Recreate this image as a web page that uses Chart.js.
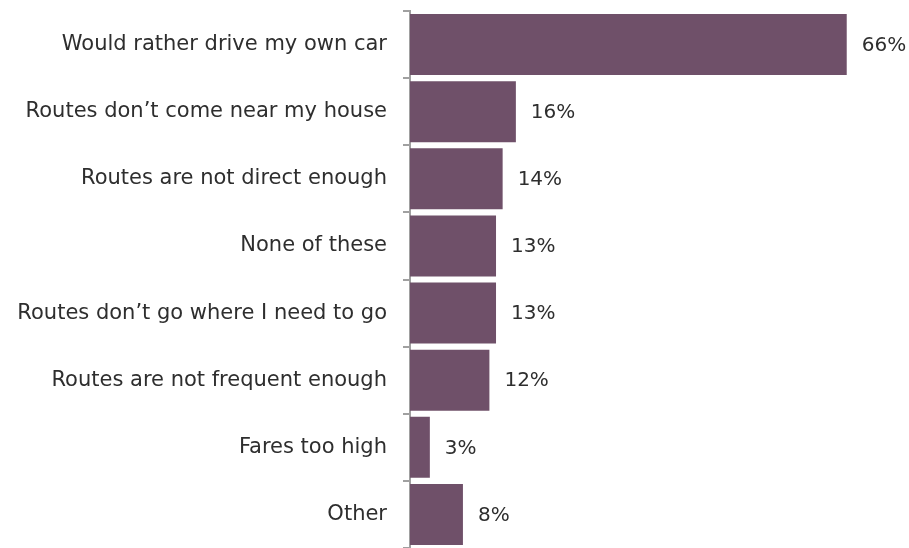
<!DOCTYPE html>
<html>
<head>
<meta charset="utf-8">
<script src="https://cdn.jsdelivr.net/npm/chart.js@4"></script>
<style>
  html, body { margin: 0; padding: 0; background: #fff; }
  #wrap { width: 909px; height: 548px; }
</style>
</head>
<body>
<div id="wrap"><canvas id="chart1"></canvas></div>
<script>
var labelsChart1 = [
    'Would rather drive my own car',
    'Routes don\u2019t come near my house',
    'Routes are not direct enough',
    'None of these',
    'Routes don\u2019t go where I need to go',
    'Routes are not frequent enough',
    'Fares too high',
    'Other'
]

var valuesChart1 = [66, 16, 14, 13, 13, 12, 3, 8]

// draws the "66%" labels right of each bar
var valueLabels = {
    id: 'valueLabels',
    afterDatasetsDraw: function(chart) {
        var ctx = chart.ctx;
        var meta = chart.getDatasetMeta(0);
        ctx.save();
        ctx.font = '20px "DejaVu Sans"';
        ctx.fillStyle = '#2e2e2e';
        ctx.textAlign = 'left';
        ctx.textBaseline = 'middle';
        meta.data.forEach(function(bar, i) {
            ctx.fillText(valuesChart1[i] + '%', bar.x + 15, bar.y + 1);
        });
        ctx.restore();
    }
}

var dataChart1 = {
    labels: labelsChart1,
    datasets: [{
        label: "Reasons",
        backgroundColor: '#6f5069',
        data: valuesChart1,
        categoryPercentage: 1,
        barPercentage: 0.91
    }]
}

var configChart1 = {
    type: 'bar',
    data: dataChart1,
    plugins: [valueLabels],
    options: {
        indexAxis: 'y',
        responsive: true,
        maintainAspectRatio: false,
        animation: false,
        layout: {
            padding: { top: 11, right: 35.8, bottom: 0, left: 0 }
        },
        scales: {
            x: {
                display: false,
                min: 0,
                max: 70
            },
            y: {
                z: 1,
                offset: true,
                afterFit: function(scale) {
                    scale.width = 410;
                    // no extra room above/below for the first and last label
                    scale.paddingTop = 0;
                    scale.paddingBottom = 0;
                },
                border: {
                    display: true,
                    color: '#a0a0a0',
                    width: 2
                },
                grid: {
                    drawOnChartArea: false,
                    offset: true,
                    tickLength: 7,
                    color: '#a0a0a0',
                    lineWidth: 2
                },
                ticks: {
                    padding: 16,
                    color: '#2e2e2e',
                    font: { family: '"DejaVu Sans"', size: 21 }
                }
            }
        },
        plugins: {
            legend: { display: false },
            tooltip: { enabled: false }
        }
    }
};

var chart1 = new Chart(
    document.getElementById('chart1'),
    configChart1
);
</script>
</body>
</html>
